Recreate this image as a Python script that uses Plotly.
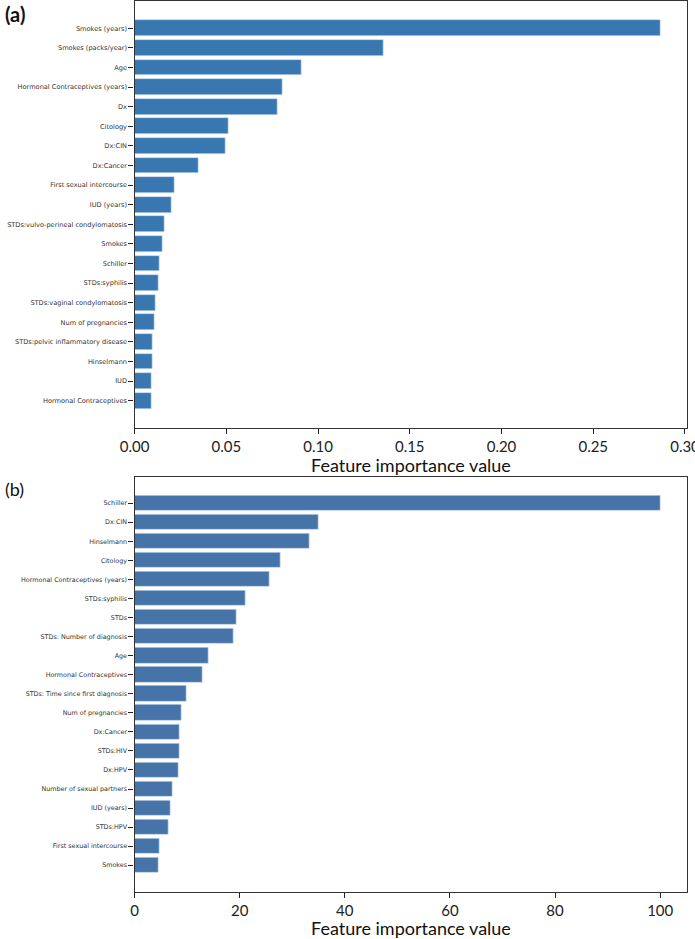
import plotly.graph_objects as go

# Panel (a)
features_a = [
    "Smokes (years)", "Smokes (packs/year)", "Age", "Hormonal Contraceptives (years)",
    "Dx", "Citology", "Dx:CIN", "Dx:Cancer", "First sexual intercourse", "IUD (years)",
    "STDs:vulvo-perineal condylomatosis", "Smokes", "Schiller", "STDs:syphilis",
    "STDs:vaginal condylomatosis", "Num of pregnancies", "STDs:pelvic inflammatory disease",
    "Hinselmann", "IUD", "Hormonal Contraceptives",
]
values_a = [
    0.2865, 0.1359, 0.0912, 0.0807, 0.0782, 0.0513, 0.0498, 0.0349, 0.0218, 0.0204,
    0.0164, 0.0153, 0.0136, 0.0131, 0.0116, 0.0107, 0.0100, 0.0100, 0.0095, 0.0091,
]
ticks_a = [0.00, 0.05, 0.10, 0.15, 0.20, 0.25, 0.30]
ticklabels_a = ["0.00", "0.05", "0.10", "0.15", "0.20", "0.25", "0.30"]

# Panel (b)
features_b = [
    "Schiller", "Dx:CIN", "Hinselmann", "Citology", "Hormonal Contraceptives (years)",
    "STDs:syphilis", "STDs", "STDs: Number of diagnosis", "Age", "Hormonal Contraceptives",
    "STDs: Time since first diagnosis", "Num of pregnancies", "Dx:Cancer", "STDs:HIV",
    "Dx:HPV", "Number of sexual partners", "IUD (years)", "STDs:HPV",
    "First sexual intercourse", "Smokes",
]
values_b = [
    100.0, 35.0, 33.25, 27.7, 25.7, 21.2, 19.35, 18.9, 14.1, 13.0,
    9.9, 9.0, 8.6, 8.55, 8.3, 7.3, 6.9, 6.5, 4.75, 4.5,
]
ticks_b = [0, 20, 40, 60, 80, 100]
ticklabels_b = ["0", "20", "40", "60", "80", "100"]

axis_title = "Feature importance value"

W, H = 695, 939

def py(px):
    return 1 - px / H

def pxx(px):
    return px / W

fig = go.Figure()

fig.add_trace(go.Bar(
    x=values_a, y=list(range(len(features_a))), orientation="h",
    width=0.8, marker=dict(color="#3877b0", line=dict(color="rgba(200,220,240,0.9)", width=0.7)),
    xaxis="x", yaxis="y", showlegend=False,
))
fig.add_trace(go.Bar(
    x=values_b, y=list(range(len(features_b))), orientation="h",
    width=0.8, marker=dict(color="#4674a8", line=dict(color="rgba(200,220,240,0.9)", width=0.7)),
    xaxis="x2", yaxis="y2", showlegend=False,
))

n_a = len(features_a)
n_b = len(features_b)

xdom = [pxx(134.5), pxx(686.5)]
tickfont_num = dict(family="Lato, Carlito, sans-serif", size=15, color="#222")
linecol = "#333333"

common_x = dict(showline=True, linecolor=linecol, linewidth=1.3, mirror=True,
                ticks="outside", ticklen=5, tickwidth=1.2, tickcolor="#222",
                showgrid=False, zeroline=False, tickfont=tickfont_num, automargin=False,
                ticklabeloverflow="allow")
common_y = dict(showline=True, linecolor=linecol, linewidth=1.3, mirror=True,
                ticks="outside", ticklen=5, tickwidth=1.2, tickcolor="#222",
                showgrid=False, zeroline=False, tickmode="array", automargin=False)

fig.update_layout(
    template="none",
    width=W, height=H,
    margin=dict(l=0, r=0, t=0, b=0, autoexpand=False),
    paper_bgcolor="white", plot_bgcolor="white",
    bargap=0,
    xaxis=dict(domain=xdom, anchor="y", range=[0, values_a[0] * 1.05],
               tickmode="array", tickvals=ticks_a, ticktext=ticklabels_a, **common_x),
    yaxis=dict(domain=[py(428), py(1)], anchor="x",
               range=[n_a - 1 + 1.39, -1.39],
               tickvals=list(range(n_a)), ticktext=features_a,
               tickfont=dict(family="DejaVu Sans", size=6.6, color="#333"), **common_y),
    xaxis2=dict(domain=xdom, anchor="y2", range=[0, values_b[0] * 1.05],
                tickmode="array", tickvals=ticks_b, ticktext=ticklabels_b, **common_x),
    yaxis2=dict(domain=[py(891.7), py(476.7)], anchor="x2",
                range=[n_b - 1 + 1.39, -1.39],
                tickvals=list(range(n_b)), ticktext=features_b,
                tickfont=dict(family="DejaVu Sans", size=6.4, color="#333"), **common_y),
)

annots = [
    dict(text=axis_title, x=(xdom[0] + xdom[1]) / 2, y=py(465), xref="paper", yref="paper",
         xanchor="center", yanchor="middle", showarrow=False,
         font=dict(family="Lato, Carlito, sans-serif", size=18, color="#111")),
    dict(text=axis_title, x=(xdom[0] + xdom[1]) / 2, y=py(928), xref="paper", yref="paper",
         xanchor="center", yanchor="middle", showarrow=False,
         font=dict(family="Lato, Carlito, sans-serif", size=18, color="#111")),
    dict(text="<b>(a)</b>", x=pxx(3), y=py(14), xref="paper", yref="paper",
         xanchor="left", yanchor="middle", showarrow=False,
         font=dict(family="Lato, Carlito, sans-serif", size=20, color="#111")),
    dict(text="(b)", x=pxx(3), y=py(489), xref="paper", yref="paper",
         xanchor="left", yanchor="middle", showarrow=False,
         font=dict(family="Lato, Carlito, sans-serif", size=18, color="#111")),
]
fig.update_layout(annotations=annots)

fig.write_html(
    "out.html",
    config={"displayModeBar": False},
    post_script="document.body.style.margin='0';document.body.style.overflow='hidden';",
)
